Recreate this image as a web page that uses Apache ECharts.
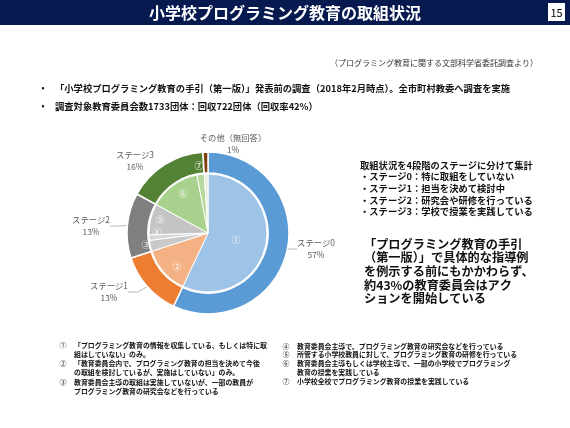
<!DOCTYPE html>
<html>
<head>
<meta charset="utf-8">
<script src="https://cdn.jsdelivr.net/npm/echarts@6/dist/echarts.min.js"></script>
<style>
  html, body { margin: 0; padding: 0; background: #fff; }
  #chart { width: 570px; height: 428px; }
</style>
</head>
<body>
<div id="chart"></div>
<script>
const FONT = '"Noto Sans CJK JP", "Noto Sans", sans-serif';

// outer ring: stages
const stageNames = ['ステージ0', 'ステージ1', 'ステージ2', 'ステージ3', 'その他（無回答）'];
const stageValues = [57, 13, 13, 16, 1];
const stageColors = ['#5b9bd5', '#ed7d31', '#7f7f7f', '#548235', '#843c0c'];

// inner pie: detailed answers
const detailNames = ['①', '②', '③', '④', '⑤', '⑥', '⑦', 'その他'];
const detailValues = [57, 13, 3, 1.5, 8.5, 14, 2, 1];
const detailColors = ['#9dc3e6', '#f4b183', '#c9c9c9', '#d6d6d6', '#c4c4c4', '#a9d18e', '#b5d99c', '#e2efda'];

const bullets = [
  '「小学校プログラミング教育の手引（第一版）」発表前の調査（2018年2月時点）。全市町村教委へ調査を実施',
  '調査対象教育委員会数1733団体：回収722団体（回収率42%）'
];
const stageNotes = [
  '取組状況を4段階のステージに分けて集計',
  '・ステージ0：特に取組をしていない',
  '・ステージ1：担当を決めて検討中',
  '・ステージ2：研究会や研修を行っている',
  '・ステージ3：学校で授業を実践している'
];
const message = [
  '「プログラミング教育の手引',
  '（第一版）」で具体的な指導例',
  'を例示する前にもかかわらず、',
  '約43%の教育委員会はアク',
  'ションを開始している'
];
const notesLeft = [
  ['①', '「プログラミング教育の情報を収集している、もしくは特に取'],
  ['', '組はしていない」のみ。'],
  ['②', '「教育委員会内で、プログラミング教育の担当を決めて今後'],
  ['', 'の取組を検討しているが、実施はしていない」のみ。'],
  ['③', '教育委員会主導の取組は実施していないが、一部の教員が'],
  ['', 'プログラミング教育の研究会などを行っている']
];
const notesRight = [
  ['④', '教育委員会主導で、プログラミング教育の研究会などを行っている'],
  ['⑤', '所管する小学校教員に対して、プログラミング教育の研修を行っている'],
  ['⑥', '教育委員会主導もしくは学校主導で、一部の小学校でプログラミング'],
  ['', '教育の授業を実践している'],
  ['⑦', '小学校全校でプログラミング教育の授業を実践している']
];

// label placement (layout only)
const outerLabelPos = [[316, 249], [109, 292], [91, 226], [135, 161], [233, 144]];
const innerLabelPos = [[236, 240], [177, 267], [146, 245], [157, 233], [160, 220], [183, 194], [199, 166], null];
const notesLeftY = [345, 354, 363, 372, 382, 391];
const notesRightY = [346, 354.5, 363, 372, 381.5];

const chart = echarts.init(document.getElementById('chart'), null, { renderer: 'canvas' });

function txt(x, y, text, size, opts) {
  return {
    type: 'text', x: x, y: y, silent: true,
    style: Object.assign({
      text: text, fontSize: size, fontFamily: FONT, fontWeight: 'bold',
      fill: '#111', align: 'left', verticalAlign: 'middle'
    }, opts || {})
  };
}

const graphics = [
  { type: 'rect', shape: { x: 0, y: 0, width: 570, height: 25 }, style: { fill: '#061a50' }, silent: true },
  txt(285, 13, '小学校プログラミング教育の取組状況', 16, { fill: '#fff', align: 'center' }),
  { type: 'rect', shape: { x: 548, y: 3, width: 17, height: 18 }, style: { fill: '#fff' }, silent: true },
  txt(556.5, 12.5, '15', 11, { align: 'center', fontWeight: 'normal', fill: '#000' }),
  txt(538, 63, '（プログラミング教育に関する文部科学省委託調査より）', 8, { align: 'right', fontWeight: 'normal', fill: '#333' })
];
bullets.forEach((b, i) => {
  const y = 88 + i * 18;
  graphics.push(txt(43, y, '•', 9, { align: 'center', fontWeight: 'normal' }));
  graphics.push(txt(55, y, b, 9.3));
});
stageNotes.forEach((s, i) => graphics.push(txt(360, 165 + i * 11.7, s, 9.3)));
message.forEach((s, i) => graphics.push(txt(364, 244 + i * 13.7, s, 12.2)));
notesLeft.forEach((n, i) => {
  if (n[0]) graphics.push(txt(63, notesLeftY[i], n[0], 7, { align: 'center', fontWeight: 'normal' }));
  graphics.push(txt(74, notesLeftY[i], n[1], 6.9));
});
notesRight.forEach((n, i) => {
  if (n[0]) graphics.push(txt(286, notesRightY[i], n[0], 7, { align: 'center', fontWeight: 'normal' }));
  graphics.push(txt(297, notesRightY[i], n[1], 6.9));
});

chart.setOption({
  animation: false,
  graphic: graphics,
  series: [
    {
      type: 'pie',
      center: [208, 233],
      radius: [60, 81],
      startAngle: 90,
      clockwise: true,
      avoidLabelOverlap: false,
      itemStyle: { borderColor: '#fff', borderWidth: 1.5 },
      label: {
        show: true,
        formatter: '{b}\n{d}%',
        fontFamily: FONT,
        fontSize: 8.3,
        lineHeight: 12,
        color: '#595959',
        align: 'center'
      },
      labelLine: { show: true, length: 8, length2: 10, lineStyle: { color: '#a6a6a6', width: 0.8 } },
      labelLayout: function (p) {
        const pos = outerLabelPos[p.dataIndex];
        return { x: pos[0], y: pos[1], align: 'center', verticalAlign: 'middle' };
      },
      data: stageNames.map((n, i) => ({
        name: n,
        value: stageValues[i],
        itemStyle: { color: stageColors[i] },
        labelLine: { show: i !== 3 && i !== 4 }
      }))
    },
    {
      type: 'pie',
      center: [208, 233],
      radius: [0, 59],
      startAngle: 90,
      clockwise: true,
      avoidLabelOverlap: false,
      itemStyle: { borderColor: '#fff', borderWidth: 1 },
      label: {
        show: true,
        position: 'inside',
        formatter: '{b}',
        fontFamily: FONT,
        fontSize: 9,
        color: '#fff'
      },
      labelLine: { show: false },
      labelLayout: function (p) {
        const pos = innerLabelPos[p.dataIndex];
        if (!pos) return {};
        return { x: pos[0], y: pos[1], align: 'center', verticalAlign: 'middle' };
      },
      data: detailNames.map((n, i) => ({
        name: n,
        value: detailValues[i],
        itemStyle: { color: detailColors[i] },
        label: { show: i < 7 }
      }))
    }
  ]
});
</script>
</body>
</html>
